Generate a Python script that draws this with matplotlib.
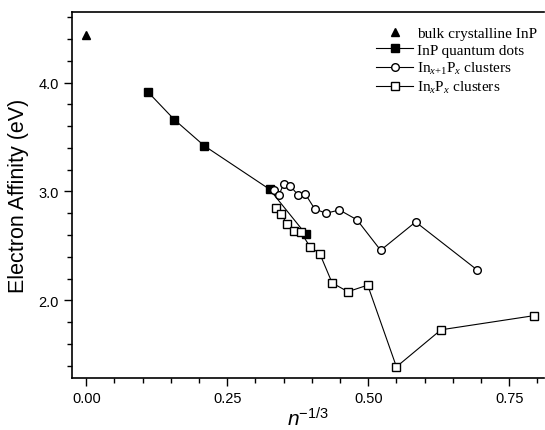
import matplotlib
matplotlib.use("Agg")
import matplotlib.pyplot as plt
from matplotlib.ticker import MultipleLocator

# serif math for legend subscripts, sans (italic) for the axis label
plt.rcParams["mathtext.fontset"] = "custom"
plt.rcParams["mathtext.rm"] = "Liberation Serif"
plt.rcParams["mathtext.it"] = "Liberation Serif:italic"
plt.rcParams["mathtext.sf"] = "Liberation Sans"
plt.rcParams["mathtext.bf"] = "Liberation Sans:italic"

# data
bulk_x = [0.0]
bulk_y = [4.44]

dots_x = [0.110, 0.156, 0.209, 0.325, 0.389]
dots_y = [3.91, 3.66, 3.42, 3.02, 2.61]

inx1px_x = [0.333, 0.342, 0.350, 0.362, 0.375, 0.388, 0.405, 0.425,
            0.449, 0.480, 0.522, 0.584, 0.693]
inx1px_y = [3.01, 2.97, 3.07, 3.05, 2.97, 2.98, 2.84, 2.80,
            2.83, 2.74, 2.46, 2.72, 2.28]

inxpx_x = [0.337, 0.346, 0.356, 0.368, 0.380, 0.397, 0.414, 0.436,
           0.464, 0.499, 0.550, 0.629, 0.794]
inxpx_y = [2.85, 2.79, 2.70, 2.64, 2.63, 2.49, 2.43, 2.16,
           2.08, 2.14, 1.39, 1.73, 1.86]

fig = plt.figure(figsize=(5.45, 4.31), dpi=100)
ax = fig.add_axes([0.132, 0.12, 0.866, 0.8505])

lw = 0.8
ax.plot(bulk_x, bulk_y, linestyle="none", marker="^", color="black",
        markersize=6, label="bulk crystalline InP")
ax.plot(dots_x, dots_y, "-s", color="black", lw=lw, markersize=5.5,
        label="InP quantum dots")
ax.plot(inx1px_x, inx1px_y, "-o", color="black", lw=lw, markersize=5.5,
        markerfacecolor="white", markeredgewidth=1.0,
        label=r"In$_{x\mathrm{+1}}$P$_{x}$ clusters")
ax.plot(inxpx_x, inxpx_y, "-s", color="black", lw=lw, markersize=5.5,
        markerfacecolor="white", markeredgewidth=1.0,
        label=r"In$_{x}$P$_{x}$ clusters")

ax.set_xlim(-0.0254, 0.8115)
ax.set_ylim(1.285, 4.65)

ax.xaxis.set_minor_locator(MultipleLocator(0.05))
ax.yaxis.set_minor_locator(MultipleLocator(0.2))
ax.set_xticks([0.0, 0.25, 0.5, 0.75])
ax.set_xticklabels(["0.00", "0.25", "0.50", "0.75"])
ax.set_yticks([2.0, 3.0, 4.0])
ax.set_yticklabels(["2.0", "3.0", "4.0"])

ax.tick_params(which="major", direction="out", length=6, width=1.0,
               labelsize=10.5, labelfontfamily="Liberation Sans")
ax.tick_params(which="minor", direction="out", length=3.5, width=1.0)
ax.tick_params(axis="x", pad=3)

for side in ["left", "bottom", "top"]:
    ax.spines[side].set_linewidth(1.2)
ax.spines["right"].set_visible(False)

ax.set_ylabel("Electron Affinity (eV)", fontsize=15.5,
              fontfamily="Liberation Sans", labelpad=7)
ax.set_xlabel(r"$\mathbf{n}^{\mathsf{-1/3}}$", fontsize=15, labelpad=1)

leg = ax.legend(loc="upper right", bbox_to_anchor=(1.006, 0.985),
                frameon=False, prop={"family": "Liberation Serif", "size": 11},
                handlelength=2.4, handletextpad=0.3, labelspacing=0.2,
                borderaxespad=0.2)

fig.savefig("out.png", dpi=100)
